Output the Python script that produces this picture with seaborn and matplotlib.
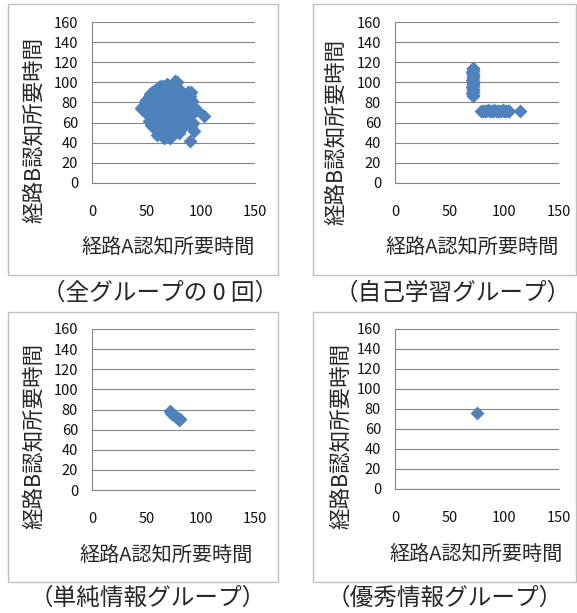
import matplotlib
matplotlib.use('Agg')
import matplotlib.pyplot as plt
import seaborn as sns
import pandas as pd
from matplotlib.patches import Rectangle

sns.set_theme(style='white')
plt.rcParams['font.family'] = ['Noto Sans CJK JP', 'DejaVu Sans']

# ---------------- data ----------------
x_label = '経路A認知所要時間'
y_label = '経路B認知所要時間'
x_ticks = [0, 50, 100, 150]
y_ticks = [0, 20, 40, 60, 80, 100, 120, 140, 160]
captions = ['（全グループの 0 回）', '（自己学習グループ）', '（単純情報グループ）', '（優秀情報グループ）']

# (全グループの0回)
all_x = [45, 47, 48, 49, 50, 50, 51, 52, 52, 53, 53, 54, 54, 55, 55, 56, 56, 57, 57, 58,
         58, 59, 59, 60, 60, 60, 61, 61, 62, 62, 63, 63, 63, 64, 64, 64, 65, 65, 66, 66,
         66, 67, 67, 67, 68, 68, 68, 69, 69, 69, 70, 70, 70, 71, 71, 71, 72, 72, 72, 73,
         73, 73, 74, 74, 74, 75, 75, 76, 76, 76, 77, 77, 77, 78, 78, 78, 79, 79, 80, 80,
         80, 81, 81, 82, 82, 83, 83, 84, 84, 85, 85, 86, 86, 87, 87, 88, 88, 89, 89, 90,
         90, 91, 91, 92, 93, 94, 94, 97, 103, 60, 62, 65, 68, 70, 74, 76, 79, 58, 55, 53,
         50, 84, 86, 82, 80, 72, 66, 62, 58, 64, 73, 77, 69, 65, 63, 91, 89]
all_y = [75, 73, 78, 80, 82, 70, 76, 62, 85, 68, 88, 73, 58, 80, 90, 65, 84, 71, 55, 92,
         77, 61, 86, 48, 68, 81, 74, 94, 57, 88, 65, 79, 96, 52, 71, 84, 60, 90, 45, 76,
         68, 56, 87, 93, 47, 63, 80, 72, 58, 91, 66, 84, 50, 76, 62, 95, 54, 70, 88, 80,
         59, 67, 74, 92, 48, 63, 85, 101, 57, 71, 78, 66, 90, 100, 52, 83, 60, 74, 69, 93,
         56, 79, 64, 86, 72, 55, 67, 82, 61, 76, 88, 58, 70, 84, 65, 73, 90, 62, 78, 42,
         86, 68, 57, 81, 60, 52, 76, 73, 67, 90, 72, 83, 75, 79, 66, 82, 87, 66, 72, 78,
         76, 70, 80, 60, 50, 45, 52, 50, 58, 78, 86, 94, 98, 96, 93, 90, 88]

# (自己学習グループ)
self_x = [71, 71, 70.5, 71, 71.5, 71, 70.5, 71, 71, 71.5, 71, 70.5, 71, 71, 71.5, 71, 70.5, 71, 71, 71,
          79, 80.5, 82, 83.5, 85, 86.5, 88, 89.5, 91, 92.5, 94, 95.5, 97, 98.5, 100, 101.5, 103, 104.5, 114]
self_y = [86, 87.5, 89, 90.5, 92, 93.5, 95, 96.5, 98, 99.5, 101, 102.5, 104, 105.5, 107, 108.5, 110, 111.5, 113, 114,
          72, 72, 71.5, 72, 72.5, 72, 71.5, 72, 72.5, 72, 71.5, 72, 72, 72.5, 72, 71.5, 72, 72, 72]

# (単純情報グループ)
simple_x = [72, 73, 74, 76, 79, 81, 80]
simple_y = [79, 77, 76, 74, 72, 71, 70]

# (優秀情報グループ)
excellent_x = [75]
excellent_y = [76]

series = [(all_x, all_y), (self_x, self_y), (simple_x, simple_y), (excellent_x, excellent_y)]

# ---------------- layout (pixels) ----------------
W, H = 577, 613
fig = plt.figure(figsize=(W / 100, H / 100), dpi=100)
fig.patch.set_facecolor('white')

def fx(px):
    return px / W

def fy(py):
    return 1 - py / H

layout = [
    dict(box=(8, 4, 278, 275), ax=(92, 22, 255, 183), cap=(160, 293), ylab=(-0.356, 0.329), xlab=(0.466, -0.40)),
    dict(box=(313, 4, 576, 275), ax=(395, 22, 559, 183), cap=(453, 293), ylab=(-0.36, 0.317), xlab=(0.473, -0.40)),
    dict(box=(8, 312, 278, 582), ax=(92, 329, 255, 490), cap=(148, 598), ylab=(-0.356, 0.335), xlab=(0.454, -0.404)),
    dict(box=(313, 312, 576, 582), ax=(395, 329, 559, 489), cap=(445, 598), ylab=(-0.33, 0.33), xlab=(0.494, -0.41)),
]

blue = '#4F81BD'
grid_c = '#868686'

for (xs, ys), lay, cap in zip(series, layout, captions):
    l, t, r, b = lay['box']
    fig.add_artist(Rectangle((fx(l), fy(b)), (r - l) / W, (b - t) / H, transform=fig.transFigure,
                             fill=False, edgecolor='#BFBFBF', linewidth=1.0))
    l, t, r, b = lay['ax']
    ax = fig.add_axes([fx(l), fy(b), (r - l) / W, (b - t) / H])
    df = pd.DataFrame({'A': xs, 'B': ys})
    sns.scatterplot(data=df, x='A', y='B', marker='D', s=50, color=blue, edgecolor=blue,
                    linewidth=0, ax=ax, legend=False, zorder=3)
    ax.set_xlim(0, 150)
    ax.set_ylim(0, 160)
    ax.set_xticks(x_ticks)
    ax.set_yticks(y_ticks)
    ax.set_axisbelow(True)
    ax.yaxis.grid(True, color=grid_c, linewidth=0.8)
    ax.xaxis.grid(False)
    for sp in ['top', 'right']:
        ax.spines[sp].set_visible(False)
    for sp in ['left', 'bottom']:
        ax.spines[sp].set_color(grid_c)
        ax.spines[sp].set_linewidth(0.8)
    ax.tick_params(axis='both', length=0, labelsize=10.5, labelcolor='#111111')
    ax.tick_params(axis='x', pad=16)
    ax.tick_params(axis='y', pad=10)
    ax.set_xlabel(x_label, fontsize=14.5)
    ax.set_ylabel(y_label, fontsize=15.5)
    ax.xaxis.set_label_coords(*lay['xlab'])
    ax.yaxis.set_label_coords(*lay['ylab'])
    ax.xaxis.label.set_va('center')
    ax.yaxis.label.set_va('center')
    ax.set_facecolor('white')
    cx, cy = lay['cap']
    fig.text(fx(cx), fy(cy), cap, ha='center', va='center', fontsize=17)

fig.savefig('out.png', dpi=100)
